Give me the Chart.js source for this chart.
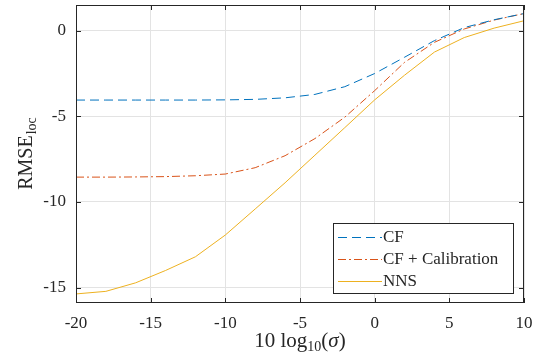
<!DOCTYPE html>
<html>
<head>
<meta charset="utf-8">
<script src="https://cdn.jsdelivr.net/npm/chart.js@4"></script>
<style>
  html, body { margin: 0; padding: 0; background: #fff; }
  #wrap { width: 545px; height: 364px; }
</style>
</head>
<body>
<div id="wrap"><canvas id="rmseChart" width="545" height="364"></canvas></div>
<script>
// values
const snr = [-20, -18, -16, -14, -12, -10, -8, -6, -4, -2, 0, 2, 4, 6, 8, 10];
const cf = [-4.05, -4.05, -4.05, -4.05, -4.05, -4.04, -4.01, -3.92, -3.72, -3.27, -2.5, -1.55, -0.58, 0.18, 0.64, 1.0];
const cfCal = [-8.55, -8.55, -8.54, -8.52, -8.47, -8.37, -8.0, -7.3, -6.3, -5.05, -3.5, -1.85, -0.68, 0.1, 0.62, 1.0];
const nns = [-15.37, -15.22, -14.72, -14.0, -13.2, -11.93, -10.41, -8.88, -7.27, -5.66, -4.04, -2.6, -1.25, -0.4, 0.15, 0.58];
const xTicks = [-20, -15, -10, -5, 0, 5, 10];
const yTicks = [-15, -10, -5, 0];

const seriesNames = ['CF', 'CF + Calibration', 'NNS'];
const seriesColors = ['#0072BD', '#D95319', '#EDB120'];
const seriesDash = [[9, 5], [8, 3, 2, 3], []];

const serif = "'Liberation Serif', 'Times New Roman', serif";
const axisColor = '#262626';

function toPoints(ys) {
  return snr.map((x, i) => ({ x: x, y: ys[i] }));
}

// box, inward ticks, axis titles and legend, MATLAB style
const decorations = {
  id: 'decorations',
  afterDatasetsDraw(chart) {
    const ctx = chart.ctx;
    const a = chart.chartArea;
    const xs = chart.scales.x, ys = chart.scales.y;
    ctx.save();
    ctx.strokeStyle = axisColor;
    ctx.lineWidth = 1;
    ctx.strokeRect(a.left + 0.5, a.top + 0.5, a.right - a.left - 1, a.bottom - a.top - 1);
    ctx.beginPath();
    xTicks.forEach(v => {
      const p = Math.round(xs.getPixelForValue(v)) + 0.5;
      ctx.moveTo(p, a.bottom); ctx.lineTo(p, a.bottom - 5);
      ctx.moveTo(p, a.top); ctx.lineTo(p, a.top + 5);
    });
    yTicks.forEach(v => {
      const p = Math.round(ys.getPixelForValue(v)) + 0.5;
      ctx.moveTo(a.left, p); ctx.lineTo(a.left + 5, p);
      ctx.moveTo(a.right, p); ctx.lineTo(a.right - 5, p);
    });
    ctx.stroke();

    // y title: RMSE_loc
    ctx.fillStyle = axisColor;
    ctx.translate(25, (a.top + a.bottom) / 2);
    ctx.rotate(-Math.PI / 2);
    ctx.textBaseline = 'alphabetic';
    ctx.font = '20px ' + serif;
    const w1 = ctx.measureText('RMSE').width;
    ctx.font = '14px ' + serif;
    const w2 = ctx.measureText('loc').width;
    const start = -(w1 + w2) / 2;
    ctx.font = '20px ' + serif;
    ctx.fillText('RMSE', start, 7);
    ctx.font = '14px ' + serif;
    ctx.fillText('loc', start + w1 + 1, 11);
    ctx.setTransform(1, 0, 0, 1, 0, 0);

    // x title: 10 log10(sigma)
    const cx = (a.left + a.right) / 2, by = 347;
    const parts = [
      { t: '10 log', f: '21px ' + serif, dy: 0 },
      { t: '10', f: '14px ' + serif, dy: 4 },
      { t: '(', f: '21px ' + serif, dy: 0 },
      { t: 'σ', f: 'italic 21px ' + serif, dy: 0 },
      { t: ')', f: '21px ' + serif, dy: 0 }
    ];
    let total = 0;
    parts.forEach(p => { ctx.font = p.f; p.w = ctx.measureText(p.t).width; total += p.w; });
    let px = cx - total / 2;
    parts.forEach(p => { ctx.font = p.f; ctx.fillText(p.t, px, by + p.dy); px += p.w; });

    // legend
    const lx = 333, ly = 223, lw = 180, lh = 70;
    ctx.fillStyle = '#fff';
    ctx.fillRect(lx, ly, lw, lh);
    ctx.strokeStyle = axisColor;
    ctx.strokeRect(lx + 0.5, ly + 0.5, lw, lh);
    ctx.font = '17px ' + serif;
    ctx.textBaseline = 'middle';
    seriesNames.forEach((name, i) => {
      const yy = ly + 14 + i * 22;
      ctx.strokeStyle = seriesColors[i];
      ctx.lineWidth = 1;
      ctx.setLineDash(seriesDash[i]);
      ctx.beginPath();
      ctx.moveTo(lx + 5, yy + 0.5);
      ctx.lineTo(lx + 49, yy + 0.5);
      ctx.stroke();
      ctx.setLineDash([]);
      ctx.fillStyle = axisColor;
      ctx.fillText(name, lx + 50, yy + 1);
    });
    ctx.restore();
  }
};

new Chart(document.getElementById('rmseChart').getContext('2d'), {
  type: 'line',
  data: {
    datasets: [cf, cfCal, nns].map((ys, i) => ({
      label: seriesNames[i],
      data: toPoints(ys),
      borderColor: seriesColors[i],
      borderWidth: 1,
      borderDash: seriesDash[i],
      pointRadius: 0,
      fill: false,
      tension: 0
    }))
  },
  options: {
    responsive: false,
    animation: false,
    layout: { autoPadding: false, padding: { left: 0, right: 21, top: 5, bottom: 0 } },
    scales: {
      x: {
        type: 'linear',
        min: -20,
        max: 10,
        afterFit(scale) { scale.height = 61; scale.paddingLeft = 0; scale.paddingRight = 0; },
        afterBuildTicks(scale) { scale.ticks = xTicks.map(v => ({ value: v })); },
        grid: { color: '#e3e3e3', drawTicks: false },
        border: { display: false },
        ticks: { color: axisColor, padding: 10, maxRotation: 0, font: { family: serif, size: 17 } }
      },
      y: {
        type: 'linear',
        min: -15.9,
        max: 1.5,
        afterFit(scale) { scale.width = 76; scale.paddingTop = 0; scale.paddingBottom = 0; },
        afterBuildTicks(scale) { scale.ticks = yTicks.map(v => ({ value: v })); },
        grid: { color: '#e3e3e3', drawTicks: false },
        border: { display: false },
        ticks: { color: axisColor, padding: 10, font: { family: serif, size: 17 } }
      }
    },
    plugins: {
      legend: { display: false },
      tooltip: { enabled: false }
    }
  },
  plugins: [decorations]
});
</script>
</body>
</html>
